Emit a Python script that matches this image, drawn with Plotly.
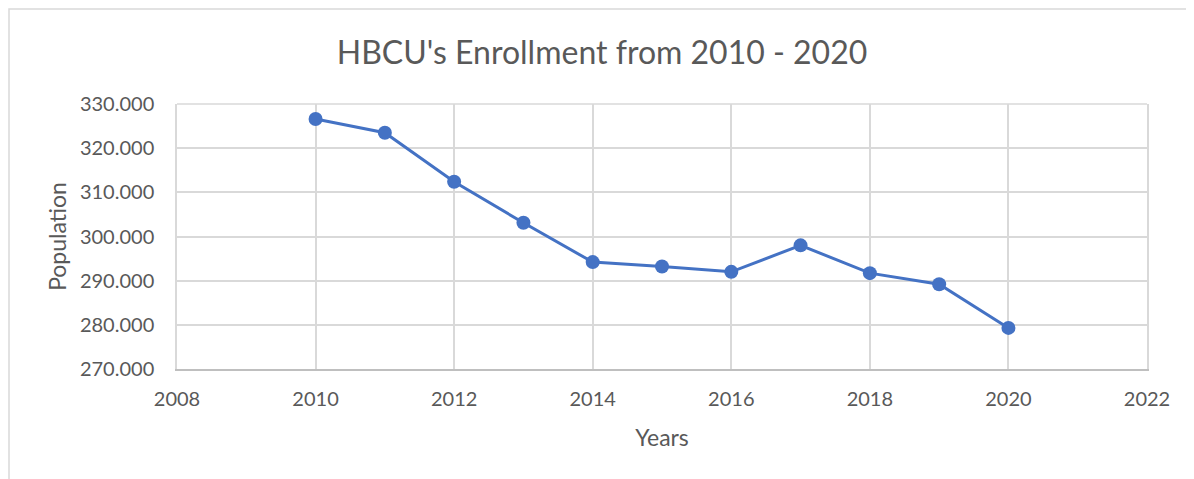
import plotly.graph_objects as go

years = [2010, 2011, 2012, 2013, 2014, 2015, 2016, 2017, 2018, 2019, 2020]
enrollment = [326600, 323500, 312400, 303100, 294200, 293200, 292000, 298000, 291700, 289200, 279300]

x_ticks = [2008, 2010, 2012, 2014, 2016, 2018, 2020, 2022]
y_ticks = [270000, 280000, 290000, 300000, 310000, 320000, 330000]

title_text = "HBCU's Enrollment from 2010 - 2020"
x_title = "Years"
y_title = "Population"

# page has an 8px body margin, so the figure is laid out 8px up/left
OFF = 8
W, H = 1194 - OFF, 479 - OFF
L, T = 177 - OFF, 104 - OFF
pw, ph = 970, 265
R, B = W - L - pw, H - T - ph

FONT = "Lato"
GREY = "#595959"
GRID = "#d9d9d9"

fig = go.Figure()
fig.add_trace(go.Scatter(
    x=years, y=enrollment, mode="lines+markers",
    line=dict(color="#4472C4", width=3),
    marker=dict(color="#4472C4", size=14),
    showlegend=False, hoverinfo="x+y",
))

fig.update_layout(
    width=W, height=H,
    margin=dict(l=L, r=R, t=T, b=B, autoexpand=False),
    paper_bgcolor="white", plot_bgcolor="white",
    separators=",.",
    font=dict(family=FONT, color=GREY, size=20),
    title=dict(text=title_text, x=(602 - OFF) / W, xanchor="center", xref="container",
               y=1 - (53 - OFF) / H, yanchor="middle", yref="container",
               font=dict(family=FONT, size=32, color=GREY)),
    xaxis=dict(
        range=[2008, 2022], tickvals=x_ticks, ticktext=[str(v) for v in x_ticks],
        showgrid=True, gridcolor=GRID, gridwidth=1.5,
        showline=True, linecolor="#bfbfbf", linewidth=2,
        ticks="outside", ticklen=11, tickcolor="rgba(0,0,0,0)",
        tickfont=dict(family=FONT, size=20, color=GREY),
        title=dict(text=x_title, font=dict(family=FONT, size=23, color=GREY), standoff=21),
        zeroline=False,
    ),
    yaxis=dict(
        range=[270000, 330000], tickvals=y_ticks, tickformat=",d",
        showgrid=True, gridcolor=GRID, gridwidth=1.5,
        showline=True, linecolor=GRID, linewidth=1.5, mirror=True,
        ticks="outside", ticklen=17, tickcolor="rgba(0,0,0,0)",
        tickfont=dict(family=FONT, size=20, color=GREY),
        title=dict(text=y_title, font=dict(family=FONT, size=23, color=GREY), standoff=7),
        zeroline=False,
    ),
)

# chart-area border (top and left edges visible in the crop)
fig.add_shape(type="rect", xref="paper", yref="paper",
              x0=(1 - L) / pw, x1=(W + 20 - L) / pw,
              y0=-(H + 20 - (T + ph)) / ph, y1=(T + ph - 1) / ph,
              line=dict(color=GRID, width=1.5), fillcolor="rgba(0,0,0,0)", layer="below")
# top edge of plot area
fig.add_shape(type="line", xref="paper", yref="paper", x0=0, x1=1, y0=1, y1=1,
              line=dict(color=GRID, width=1.5), layer="below")

fig.write_html("out.html")
